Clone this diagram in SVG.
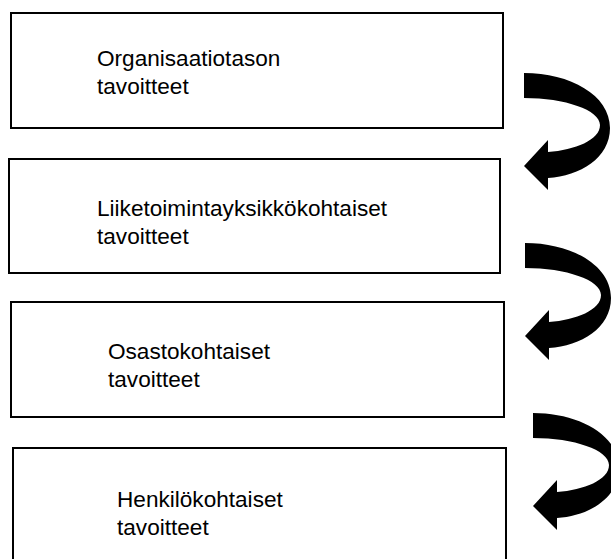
<svg xmlns="http://www.w3.org/2000/svg" xmlns:xlink="http://www.w3.org/1999/xlink" width="611" height="559" viewBox="0 0 611 559">
<style>
.box{fill:#fff;stroke:#000;stroke-width:2}
.t{font-family:"Liberation Sans",Arial,sans-serif;font-size:22.6px;fill:#000}
.arr{fill:#000;stroke:none}
</style>
<defs>
<path id="curl" d="M524,73 C570,73 610,95 610,128 C610,158 580,176 548,178 L548,190 L524,166 L548,140 L548,152 C575,150 600,140 600,125 C600,110 565,98 524,98 Z"/>
</defs>
<rect width="611" height="559" fill="#fff"/>
<g id="node1">
<rect class="box" x="11" y="13" width="492" height="115"/>
<text class="t" x="97" y="66">Organisaatiotason</text>
<text class="t" x="97" y="94">tavoitteet</text>
</g>
<g id="node2">
<rect class="box" x="9" y="159" width="491" height="114"/>
<text class="t" x="97" y="216">Liiketoimintayksikkökohtaiset</text>
<text class="t" x="97" y="244">tavoitteet</text>
</g>
<g id="node3">
<rect class="box" x="11" y="302" width="493" height="115"/>
<text class="t" x="108" y="359">Osastokohtaiset</text>
<text class="t" x="108" y="387">tavoitteet</text>
</g>
<g id="node4">
<rect class="box" x="13" y="448" width="493" height="120"/>
<text class="t" x="117" y="507">Henkilökohtaiset</text>
<text class="t" x="117" y="535">tavoitteet</text>
</g>
<g id="connectors">
<use xlink:href="#curl" class="arr"/>
<use xlink:href="#curl" class="arr" transform="translate(1,170)"/>
<use xlink:href="#curl" class="arr" transform="translate(9,340)"/>
</g>
</svg>
